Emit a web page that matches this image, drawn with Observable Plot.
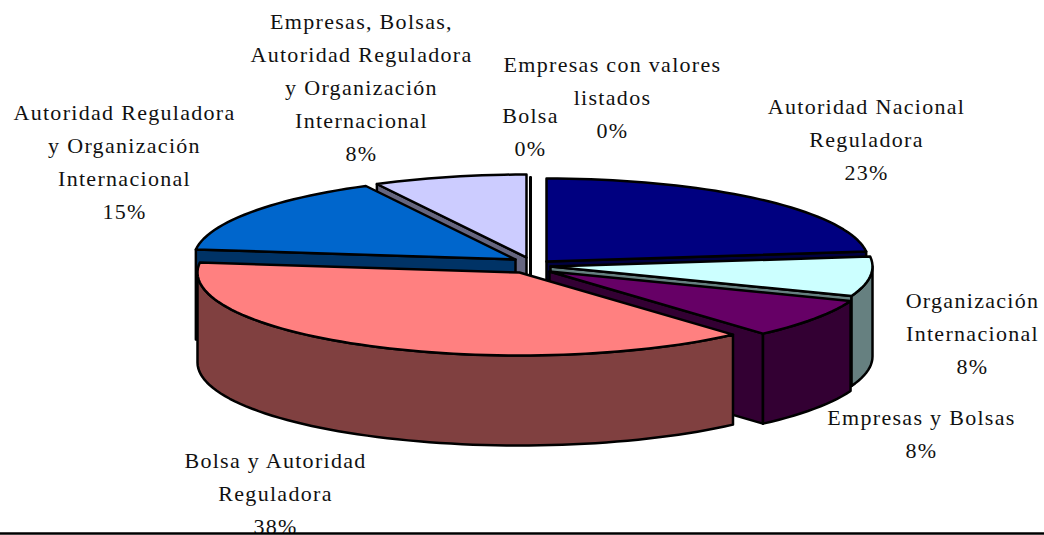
<!DOCTYPE html>
<html><head><meta charset="utf-8">
<script src="https://cdn.jsdelivr.net/npm/d3@7"></script>
<script src="https://cdn.jsdelivr.net/npm/@observablehq/plot@0.6"></script>
<style>html,body{margin:0;background:#fff}svg{display:block}</style>
</head><body><div id="chart"></div>
<script>
const categories = ["Autoridad Nacional\nReguladora","Organización\nInternacional","Empresas y Bolsas","Bolsa y Autoridad\nReguladora","Autoridad Reguladora\ny Organización\nInternacional","Empresas, Bolsas,\nAutoridad Reguladora\ny Organización\nInternacional","Bolsa","Empresas con valores\nlistados"];
const values = [23.08, 7.69, 7.69, 38.46, 15.38, 7.69, 0, 0];
const topColors = ["#000080","#ccffff","#660066","#ff8080","#0066cc","#ccccff","#ffffff","#ffffff"];
const sideColors = ["#000040","#668080","#330033","#804040","#003366","#666680","#000000","#000000"];

// layout of the exploded 3-D pie
const centre = [530, 264], rx = 322, ry = 83, depth = 90;
const explode = [[16,-3],[20,2],[19,7],[-11,8],[-15,-5],[-4,-7],[0,-4],[0,-4]];
const labelX = [866, 972, 921, 275, 124, 361, 530, 612];
const labelY = [136, 330, 430, 490, 158, 84, 128, 94];
const paintOrder = [0, 6, 7, 5, 4, 1, 2, 3];

const rad = d => d * Math.PI / 180;
const total = d3.sum(values);
let acc = 0;
const slices = values.map((v, i) => {
  const a0 = acc / total * 360; acc += v;
  return {i, a0, a1: acc / total * 360, ax: centre[0] + explode[i][0], ay: centre[1] + explode[i][1]};
});
const rim = (s, a, dz = 0) => ({x: s.ax + rx * Math.sin(rad(a)), y: s.ay - ry * Math.cos(rad(a)) + dz});
const arc = (s, a0, a1, dz = 0) => {
  const n = Math.max(1, Math.ceil(Math.abs(a1 - a0) / 2));
  return d3.range(n + 1).map(k => rim(s, a0 + (a1 - a0) * k / n, dz));
};
const poly = (pts, fill, sw = 2.5) => Plot.line(pts, {x: "x", y: "y", fill, stroke: "#000", strokeWidth: sw, curve: "linear-closed", strokeLinejoin: "round"});

const marks = [];
for (const i of paintOrder) {
  const s = slices[i], apex = {x: s.ax, y: s.ay}, low = {x: s.ax, y: s.ay + depth};
  const face = a => poly([apex, rim(s, a), rim(s, a, depth), low], sideColors[i]);
  if (values[i] === 0) {
    marks.push(poly([apex, rim(s, s.a0), apex, low], "none", 3));
    continue;
  }
  // radial cut faces that look towards the viewer
  if (Math.cos(rad(s.a0 - 90)) < -1e-6) marks.push(face(s.a0));
  if (Math.cos(rad(s.a1 + 90)) < -1e-6) marks.push(face(s.a1));
  // outer wall: the front half of the rim only
  const w0 = Math.max(s.a0, 90), w1 = Math.min(s.a1, 270);
  if (w1 > w0) marks.push(poly([...arc(s, w0, w1), ...arc(s, w1, w0, depth)], sideColors[i]));
  marks.push(poly([apex, ...arc(s, s.a0, s.a1)], topColors[i]));
}

const labels = categories.map((c, i) => ({text: `${c}\n${Math.round(values[i])}%`, x: labelX[i], y: labelY[i]}));
marks.push(Plot.text(labels, {x: "x", y: "y", text: "text", lineHeight: 1.5, fill: "#111", textAnchor: "middle"}));
marks.push(Plot.ruleY([533], {stroke: "#000", strokeWidth: 2.5}));

document.getElementById("chart").append(Plot.plot({
  width: 1044, height: 535, margin: 0,
  x: {domain: [0, 1044], axis: null},
  y: {domain: [535, 0], axis: null},
  style: {fontFamily: "'Liberation Serif', serif", fontSize: "22px", background: "#fff", letterSpacing: "1.3px"},
  marks
}));
</script></body></html>
